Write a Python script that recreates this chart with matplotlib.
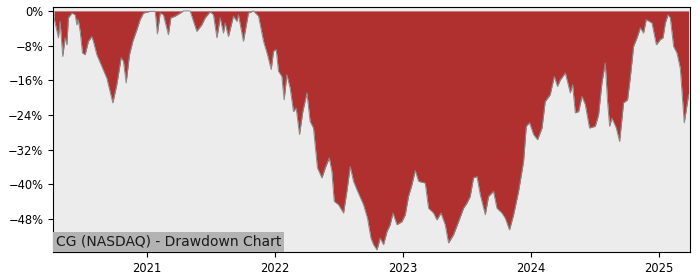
import matplotlib
matplotlib.use("Agg")
import matplotlib.pyplot as plt
import matplotlib.dates as mdates
from matplotlib.ticker import FuncFormatter
import numpy as np
import pandas as pd

# time in decimal years, drawdown in percent
years = [
    2020.273, 2020.307, 2020.320, 2020.341, 2020.359, 2020.373, 2020.385, 2020.412,
    2020.438, 2020.451, 2020.461, 2020.477, 2020.495, 2020.516, 2020.541, 2020.568,
    2020.580, 2020.607, 2020.646, 2020.685, 2020.732, 2020.763, 2020.797, 2020.815,
    2020.836, 2020.862, 2020.888, 2020.920, 2020.945, 2020.971, 2021.023, 2021.063,
    2021.080, 2021.102, 2021.127, 2021.166, 2021.185, 2021.219, 2021.258, 2021.284,
    2021.336, 2021.362, 2021.388, 2021.427, 2021.453, 2021.492, 2021.518, 2021.545,
    2021.570, 2021.596, 2021.609, 2021.635, 2021.674, 2021.701, 2021.713, 2021.752,
    2021.791, 2021.830, 2021.870, 2021.909, 2021.940, 2021.969, 2021.987, 2022.008,
    2022.026, 2022.052, 2022.070, 2022.091, 2022.117, 2022.143, 2022.164, 2022.190,
    2022.216, 2022.248, 2022.273, 2022.299, 2022.330, 2022.365, 2022.391, 2022.422,
    2022.443, 2022.461, 2022.495, 2022.534, 2022.560, 2022.586, 2022.612, 2022.638,
    2022.690, 2022.721, 2022.748, 2022.768, 2022.795, 2022.820, 2022.846, 2022.873,
    2022.898, 2022.920, 2022.951, 2022.990, 2023.016, 2023.041, 2023.068, 2023.094,
    2023.120, 2023.172, 2023.198, 2023.237, 2023.263, 2023.295, 2023.328, 2023.354,
    2023.393, 2023.432, 2023.471, 2023.498, 2023.523, 2023.549, 2023.576, 2023.602,
    2023.641, 2023.666, 2023.705, 2023.732, 2023.771, 2023.797, 2023.830, 2023.862,
    2023.901, 2023.940, 2023.961, 2023.987, 2024.018, 2024.049, 2024.084, 2024.109,
    2024.148, 2024.180, 2024.205, 2024.227, 2024.266, 2024.305, 2024.323, 2024.344,
    2024.370, 2024.396, 2024.422, 2024.455, 2024.500, 2024.526, 2024.552, 2024.578,
    2024.596, 2024.612, 2024.630, 2024.664, 2024.690, 2024.721, 2024.752, 2024.773,
    2024.799, 2024.826, 2024.852, 2024.877, 2024.898, 2024.943, 2024.977, 2025.008,
    2025.029, 2025.047, 2025.068, 2025.086, 2025.112, 2025.138, 2025.164, 2025.195,
    2025.229,
]
drawdown = [
    -1.6, -6.2, -2.4, -10.5, -6.2, -7.8, -1.6, -0.5,
    -0.9, -3.2, -2.0, -4.7, -9.7, -10.1, -7.0, -5.9,
    -7.0, -10.1, -12.8, -15.5, -21.2, -17.0, -10.8, -11.6,
    -16.6, -10.1, -7.0, -4.3, -2.0, -0.5, -0.1, -0.1,
    -5.3, -0.5, -0.9, -5.5, -1.6, -1.2, -0.5, 0.0,
    0.0, -2.4, -4.7, -3.2, -1.6, -0.2, -0.9, -6.2,
    -1.6, -5.1, -2.8, -5.9, -1.2, -2.4, -0.9, -7.0,
    -0.5, 0.0, -1.2, -7.0, -10.1, -13.5, -9.3, -8.9,
    -13.9, -15.1, -20.5, -14.7, -17.8, -23.2, -22.4, -28.5,
    -23.2, -18.9, -25.5, -27.0, -36.2, -38.5, -36.2, -33.9,
    -37.0, -43.9, -44.7, -46.6, -41.6, -35.9, -39.3, -41.2,
    -44.7, -47.8, -52.4, -53.9, -55.1, -52.4, -53.9, -50.9,
    -49.3, -46.6, -49.3, -48.6, -47.0, -42.8, -40.1, -36.8,
    -39.3, -39.7, -45.5, -46.6, -48.2, -46.6, -49.3, -53.5,
    -51.6, -48.6, -45.5, -44.3, -42.8, -38.5, -38.2, -42.4,
    -47.0, -42.8, -41.6, -45.5, -46.6, -47.8, -50.5, -47.0,
    -41.6, -34.7, -26.6, -25.8, -28.5, -29.7, -27.0, -20.9,
    -19.3, -15.1, -17.4, -15.9, -14.3, -18.9, -17.0, -23.5,
    -23.2, -19.7, -21.6, -27.0, -26.6, -23.9, -16.6, -12.0,
    -20.9, -26.6, -24.7, -27.0, -30.1, -21.2, -20.5, -15.5,
    -8.2, -6.2, -3.9, -5.1, -2.0, -2.8, -7.8, -6.6,
    -6.2, -2.8, -0.9, -1.6, -8.2, -9.7, -13.2, -25.8,
    -19.3,
]
yticks = [0, -8, -16, -24, -32, -40, -48]
label = "CG (NASDAQ) - Drawdown Chart"

yr = np.array(years)
dates = pd.Timestamp("2021-01-01") + pd.to_timedelta((yr - 2021.0) * 365.25, unit="D")
dd = np.array(drawdown)

fig = plt.figure(figsize=(7, 2.8), dpi=100)
ax = fig.add_axes([0.0757, 0.1, 0.91, 0.875])
ax.set_facecolor("#ececec")

ax.fill_between(dates, dd, 0, color="#b03030", lw=0)
ax.plot(dates, dd, color="#8a8a8a", lw=0.7)

ax.set_xlim(dates[0] - pd.Timedelta(days=3), dates[-1] + pd.Timedelta(days=4))
ax.set_ylim(-55.6, 0.9)
ax.set_yticks(yticks)
ax.yaxis.set_major_formatter(FuncFormatter(lambda v, p: f"{int(v)}%".replace("-", "\u2212")))
ax.xaxis.set_major_locator(mdates.YearLocator())
ax.xaxis.set_major_formatter(mdates.DateFormatter("%Y"))
ax.tick_params(labelsize=8.3)

ax.annotate(label, xy=(0, 0), xycoords="axes fraction", xytext=(2.2, 2.3),
            textcoords="offset points", ha="left", va="bottom",
            fontsize=10, color="#1a1a1a",
            bbox=dict(facecolor="#b3b3b3", edgecolor="none", pad=2.2))

fig.savefig("out.png")
